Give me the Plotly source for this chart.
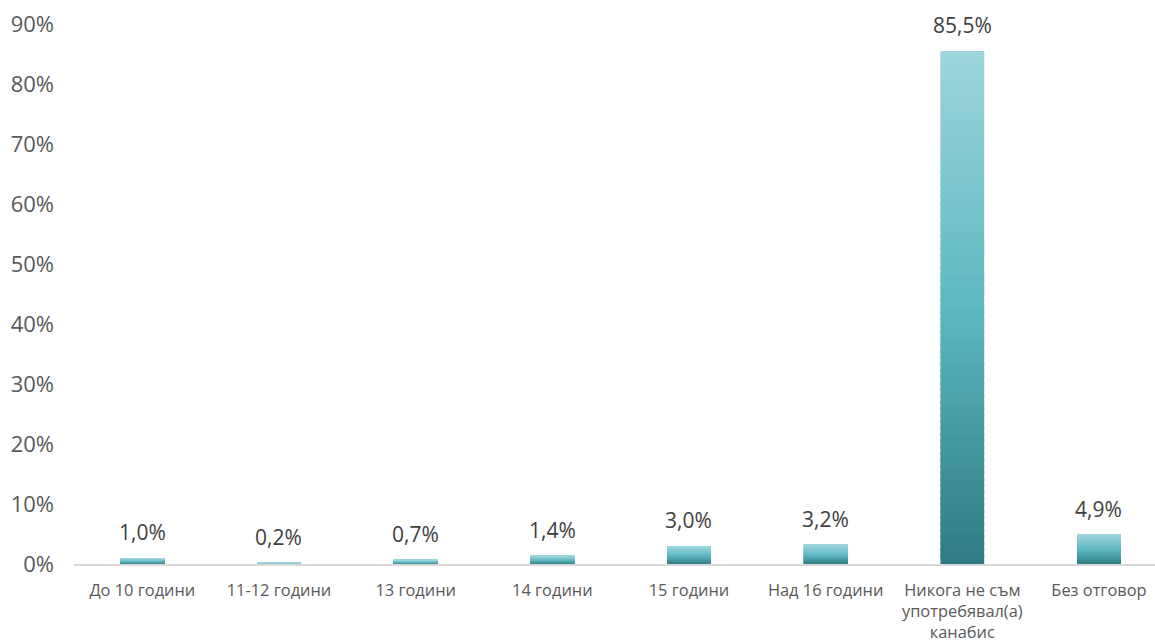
import plotly.graph_objects as go

categories = ["До 10 години", "11-12 години", "13 години", "14 години", "15 години",
              "Над 16 години", "Никога не съм<br>употребявал(а)<br>канабис", "Без отговор"]
values = [1.0, 0.2, 0.7, 1.4, 3.0, 3.2, 85.5, 4.9]
y_ticks = [0, 10, 20, 30, 40, 50, 60, 70, 80, 90]

top_c = (158, 213, 220)
mid_c = (94, 184, 194)
bot_c = (46, 122, 130)

def mix(a, b, t):
    return tuple(round(a[k] + (b[k] - a[k]) * t) for k in range(3))

def grad(t):  # t=0 bottom, 1 top
    if t < 0.5:
        return mix(bot_c, mid_c, t / 0.5)
    return mix(mid_c, top_c, (t - 0.5) / 0.5)

N = 80
fig = go.Figure()
for i in range(N):
    t = (i + 0.5) / N
    c = grad(t)
    h = [v / N * (1.0 if i == N - 1 else 1.5) for v in values]
    fig.add_trace(go.Bar(
        x=categories, y=h, base=[v * i / N for v in values],
        marker=dict(color=f"rgb{c}", line=dict(width=0)),
        width=0.32, hoverinfo="skip", showlegend=False))

for c_, v in zip(categories, values):
    fig.add_annotation(x=c_, y=v, text=f"{v:.1f}".replace(".", ",") + "%",
                       showarrow=False, yanchor="bottom", yshift=10,
                       font=dict(size=21, color="#404040", family="Open Sans"))

fig.update_layout(
    width=1155, height=643,
    margin=dict(l=74, r=0, t=24, b=72),
    barmode="overlay",
    plot_bgcolor="white", paper_bgcolor="white",
    font=dict(family="Open Sans", color="#595959"),
    xaxis=dict(range=[-0.5, 7.41], showgrid=False, showline=True, linecolor="#d9d9d9",
               linewidth=2, tickfont=dict(size=16.4, color="#595959"), ticks="",
               ticklabelstandoff=10),
    yaxis=dict(range=[0, 90], tickvals=y_ticks, ticktext=[f"{t}%" for t in y_ticks],
               showgrid=False, zeroline=False, showline=False,
               tickfont=dict(size=22, color="#595959"), ticklabelstandoff=19),
)
fig.write_html("out.html", config={"displayModeBar": False},
               post_script="document.body.style.margin='0';")
